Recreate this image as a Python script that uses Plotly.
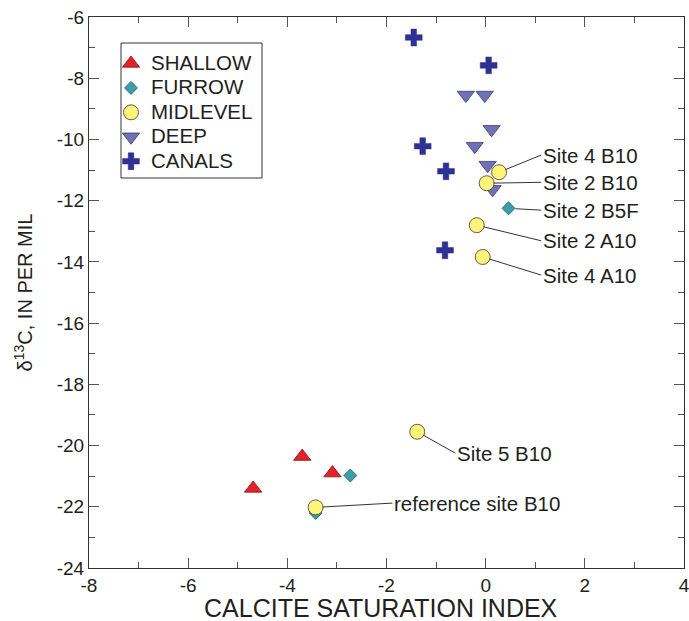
import plotly.graph_objects as go

# ---- data ----
shallow_x = [-3.70, -3.09, -4.69]
shallow_y = [-20.36, -20.90, -21.40]

furrow_x = [0.46, -2.73, -3.43]
furrow_y = [-12.25, -20.98, -22.20]

midlevel_x = [0.27, 0.02, -0.18, -0.06, -1.38, -3.43]
midlevel_y = [-11.07, -11.43, -12.80, -13.84, -19.55, -22.02]

deep_x = [-0.40, -0.02, 0.12, -0.22, 0.04, 0.14]
deep_y = [-8.55, -8.55, -9.67, -10.22, -10.84, -11.63]

canals_x = [-1.45, 0.06, -1.27, -0.80, -0.82]
canals_y = [-6.67, -7.58, -10.22, -11.04, -13.62]

series_names = ["SHALLOW", "FURROW", "MIDLEVEL", "DEEP", "CANALS"]

# labelled points: (label, point x, point y, text x, text y)
label_names = ["Site 4 B10", "Site 2 B10", "Site 2 B5F", "Site 2 A10", "Site 4 A10",
               "Site 5 B10", "reference site B10"]
label_px = [0.27, 0.02, 0.46, -0.18, -0.06, -1.38, -3.43]
label_py = [-11.07, -11.43, -12.25, -12.80, -13.84, -19.55, -22.02]
label_tx = [1.12, 1.12, 1.12, 1.12, 1.12, -0.61, -1.88]
label_ty = [-10.51, -11.40, -12.31, -13.31, -14.43, -20.25, -21.88]

x_ticks = [-8, -6, -4, -2, 0, 2, 4]
y_ticks = [-24, -22, -20, -18, -16, -14, -12, -10, -8, -6]

x_title = "CALCITE SATURATION INDEX"
y_title = "δ<sup>13</sup>C, IN PER MIL"

TXT = "#231F20"
FONT = "Liberation Sans, Arial, sans-serif"


def leg(name):
    return '<span style="font-size:20.5px">%s</span>' % name


fig = go.Figure()

fig.add_trace(go.Scatter(
    x=shallow_x, y=shallow_y, mode="markers", name=leg(series_names[0]), legendrank=1,
    marker=dict(symbol="triangle-up", size=15, color="#E8202A",
                line=dict(color="#6E1A1A", width=0.8))))
fig.add_trace(go.Scatter(
    x=furrow_x, y=furrow_y, mode="markers", name=leg(series_names[1]), legendrank=2,
    marker=dict(symbol="diamond", size=10, color="#3C9EA8",
                line=dict(color="#1F5A60", width=0.8))))
fig.add_trace(go.Scatter(
    x=deep_x, y=deep_y, mode="markers", name=leg(series_names[3]), legendrank=4,
    marker=dict(symbol="triangle-down", size=15, color="#7070B5",
                line=dict(color="#3A3A70", width=0.8))))
fig.add_trace(go.Scatter(
    x=midlevel_x, y=midlevel_y, mode="markers", name=leg(series_names[2]), legendrank=3,
    marker=dict(symbol="circle", size=15, color="#FFF37A",
                line=dict(color="#3A3A2A", width=0.8))))
fig.add_trace(go.Scatter(
    x=canals_x, y=canals_y, mode="markers", name=leg(series_names[4]), legendrank=5,
    marker=dict(symbol="cross", size=14, color="#2E3192",
                line=dict(color="#2E3192", width=0.5))))

for name, px, py, tx, ty in zip(label_names, label_px, label_py, label_tx, label_ty):
    fig.add_annotation(
        x=px, y=py, ax=tx, ay=ty, axref="x", ayref="y", xref="x", yref="y",
        text=name, showarrow=True, arrowhead=0, arrowwidth=1, arrowcolor="#333333",
        standoff=7, xanchor="left", yanchor="middle",
        font=dict(family=FONT, size=20.5, color=TXT))

# x-axis title as a paper-positioned text
fig.add_annotation(x=0.49, y=-0.0717, xref="paper", yref="paper", showarrow=False,
                   text=x_title, xanchor="center", yanchor="middle",
                   height=26, borderpad=0, valign="middle",
                   font=dict(family=FONT, size=25, color=TXT))

axis_common = dict(
    showgrid=False, zeroline=False, showline=True, linecolor="#333333", linewidth=1,
    mirror="allticks", ticks="inside", ticklen=10, tickwidth=1, tickcolor="#555555",
    tickfont=dict(family=FONT, size=19, color=TXT), ticklabeloverflow="allow",
    automargin=False,
    minor=dict(ticks="inside", ticklen=6, tickwidth=1, tickcolor="#555555", dtick=1),
)

fig.update_xaxes(range=[-8, 4], tickvals=x_ticks, ticktext=[str(v) for v in x_ticks],
                 **axis_common)
fig.update_yaxes(range=[-24, -6], tickvals=y_ticks, ticktext=[str(v) for v in y_ticks],
                 title=dict(text=y_title, standoff=18,
                            font=dict(family=FONT, size=20, color=TXT)),
                 **axis_common)

# legend frame
fig.add_shape(type="rect", xref="paper", yref="paper",
              x0=0.0538, x1=0.2908, y0=0.7078, y1=0.9528,
              line=dict(color="#333333", width=1), fillcolor="rgba(0,0,0,0)")

fig.update_layout(
    width=689, height=621,
    margin=dict(l=89, r=5, t=17, b=53, autoexpand=False),
    plot_bgcolor="white", paper_bgcolor="white",
    legend=dict(x=0.037, y=0.947, xanchor="left", yanchor="top",
                borderwidth=0, bgcolor="rgba(0,0,0,0)",
                font=dict(family=FONT, size=16.5, color=TXT),
                traceorder="normal", tracegroupgap=0, itemsizing="trace"),
)

fig.write_html("out.html")
